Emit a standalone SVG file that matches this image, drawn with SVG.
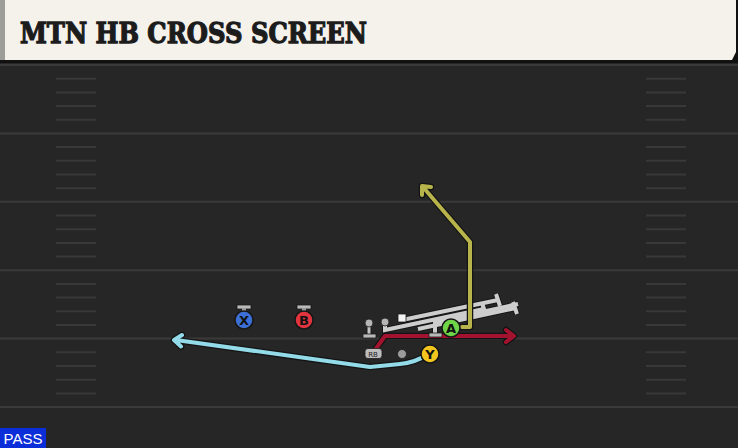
<svg xmlns="http://www.w3.org/2000/svg" xmlns:xlink="http://www.w3.org/1999/xlink" width="738" height="448" viewBox="0 0 738 448">
<style>
.yl{stroke:#3a3a3a;stroke-width:2}
.hash{stroke:#383838;stroke-width:2}
.ol{fill:none;stroke:#141414;stroke-width:6.5;stroke-linecap:round;stroke-linejoin:round}
.rt{fill:none;stroke-width:4;stroke-linecap:round;stroke-linejoin:round}
.blk{fill:none;stroke:#cdcdcd;stroke-width:4;stroke-linecap:butt;stroke-linejoin:miter}
.blko{fill:none;stroke:#161616;stroke-width:6;stroke-linecap:butt;stroke-linejoin:miter}
.pc{stroke:#161616;stroke-width:1.5}
.lbl{font-family:"DejaVu Sans","Liberation Sans",sans-serif;font-weight:bold;font-size:13px;fill:#111;text-anchor:middle}
.bar{fill:#b9b9b9;stroke:#1a1a1a;stroke-width:0.8}
</style>
<defs>
<g id="hashes">
<line x1="0" y1="13.7" x2="40" y2="13.7"/>
<line x1="0" y1="27.4" x2="40" y2="27.4"/>
<line x1="0" y1="41.1" x2="40" y2="41.1"/>
<line x1="0" y1="54.8" x2="40" y2="54.8"/>
</g>
<path id="rRed" d="M375,350 L385,336 L513,336 M506,330 L514,336 L506,342"/>
<path id="rOlive" d="M462,327 L470,327 L470,242 L423,187 M422,195 L422,186 L431,187"/>
<path id="rBlue" d="M428,354 C418,361 410,363 400,364 L370,367 L176,340 M181,346.5 L174,340 L182,335"/>
</defs>
<rect width="738" height="448" fill="#262626"/>
<g id="field">
<line class="yl" x1="0" y1="65" x2="738" y2="65"/>
<line class="yl" x1="0" y1="133.4" x2="738" y2="133.4"/>
<line class="yl" x1="0" y1="201.8" x2="738" y2="201.8"/>
<line class="yl" x1="0" y1="270.2" x2="738" y2="270.2"/>
<line class="yl" x1="0" y1="338.6" x2="738" y2="338.6"/>
<line class="yl" x1="0" y1="407" x2="738" y2="407"/>
<g class="hash">
<use xlink:href="#hashes" transform="translate(56,65)"/>
<use xlink:href="#hashes" transform="translate(56,133.4)"/>
<use xlink:href="#hashes" transform="translate(56,201.8)"/>
<use xlink:href="#hashes" transform="translate(56,270.2)"/>
<use xlink:href="#hashes" transform="translate(56,338.6)"/>
<use xlink:href="#hashes" transform="translate(646,65)"/>
<use xlink:href="#hashes" transform="translate(646,133.4)"/>
<use xlink:href="#hashes" transform="translate(646,201.8)"/>
<use xlink:href="#hashes" transform="translate(646,270.2)"/>
<use xlink:href="#hashes" transform="translate(646,338.6)"/>
</g>
</g>
<g id="header">
<rect x="0" y="0" width="738" height="63" fill="#111"/>
<rect x="0" y="0" width="5" height="60" fill="#9d9d9a"/>
<polygon points="5,0 736,0 736,52 732,60 5,60" fill="#f5f2ec"/>
<text x="20" y="43" font-family="'DejaVu Serif','Liberation Serif',serif" font-weight="bold" font-size="28" fill="#1c1c1c" stroke="#1c1c1c" stroke-width="1.3" textLength="347" lengthAdjust="spacingAndGlyphs">MTN HB CROSS SCREEN</text>
</g>
<g id="connectors">
<use xlink:href="#rBlue" class="ol"/>
<use xlink:href="#rBlue" class="rt" stroke="#93dbe9"/>
<use xlink:href="#rRed" class="ol"/>
<use xlink:href="#rRed" class="rt" stroke="#a3122e"/>
</g>
<g id="blocks">
<path class="blko" d="M385,322 L385,330 L484,309 M482,303 L486,315"/>
<path class="blko" d="M402,320 L498,300 M496,294 L500,306"/>
<path class="blko" d="M418,329 L516,308 M513,302 L517,314"/>
<path class="blko" d="M435,334 L435,322 L518,304"/>
<path class="blk" d="M385,322 L385,330 L484,309 M482,303 L486,315"/>
<path class="blk" d="M402,320 L498,300 M496,294 L500,306"/>
<path class="blk" d="M418,329 L516,308 M513,302 L517,314"/>
<path class="blk" d="M435,334 L435,322 L518,304"/>
</g>
<g id="olive-route">
<use xlink:href="#rOlive" class="ol"/>
<use xlink:href="#rOlive" class="rt" stroke="#b8b44c"/>
</g>
<g id="lt">
<line x1="369" y1="323" x2="369" y2="335" stroke="#1a1a1a" stroke-width="5"/>
<line x1="369" y1="323" x2="369" y2="335" stroke="#c4c4c4" stroke-width="3"/>
<rect class="bar" x="363" y="334" width="13" height="4"/>
<circle cx="369" cy="323" r="4" fill="#b5b5b5" stroke="#1a1a1a" stroke-width="0.8"/>
</g>
<g id="lg">
<circle cx="385" cy="322" r="4" fill="#b5b5b5" stroke="#1a1a1a" stroke-width="0.8"/>
</g>
<g id="c">
<rect x="398" y="314" width="8" height="8" fill="#f4f4f4" stroke="#1a1a1a" stroke-width="0.8"/>
</g>
<g id="rt">
<rect class="bar" x="429" y="333" width="13" height="4"/>
</g>
<g id="rb">
<rect x="365" y="348.5" width="17" height="10" rx="3" fill="#bdbdbd" stroke="#1a1a1a" stroke-width="0.8"/>
<text x="373" y="356.5" font-family="'DejaVu Sans','Liberation Sans',sans-serif" font-size="7" fill="#222" text-anchor="middle">RB</text>
</g>
<g id="qb">
<circle cx="402" cy="354" r="4.5" fill="#9c9c9c" stroke="#1a1a1a" stroke-width="0.8"/>
</g>
<g id="x">
<rect class="bar" x="237" y="305" width="14" height="4"/>
<rect x="242" y="308" width="4" height="4" fill="#9a9a9a"/>
<circle class="pc" cx="244" cy="320" r="9" fill="#3d70d6"/>
<text class="lbl" x="244" y="324.5">X</text>
</g>
<g id="b">
<rect class="bar" x="297" y="305" width="14" height="4"/>
<rect x="302" y="308" width="4" height="4" fill="#9a9a9a"/>
<circle class="pc" cx="304" cy="320" r="9" fill="#e2343e"/>
<text class="lbl" x="304" y="324.5">B</text>
</g>
<g id="a">
<circle class="pc" cx="451" cy="328" r="9" fill="#6fd447"/>
<text class="lbl" x="451" y="332.5">A</text>
</g>
<g id="y">
<circle class="pc" cx="430" cy="354" r="9" fill="#f2c61f"/>
<text class="lbl" x="430" y="358.5">Y</text>
</g>
<g id="pass">
<rect x="0" y="428" width="46" height="20" fill="#0b2ed8"/>
<text x="23" y="444" font-family="'Liberation Sans','DejaVu Sans',sans-serif" font-size="15" fill="#fff" text-anchor="middle">PASS</text>
</g>
</svg>
